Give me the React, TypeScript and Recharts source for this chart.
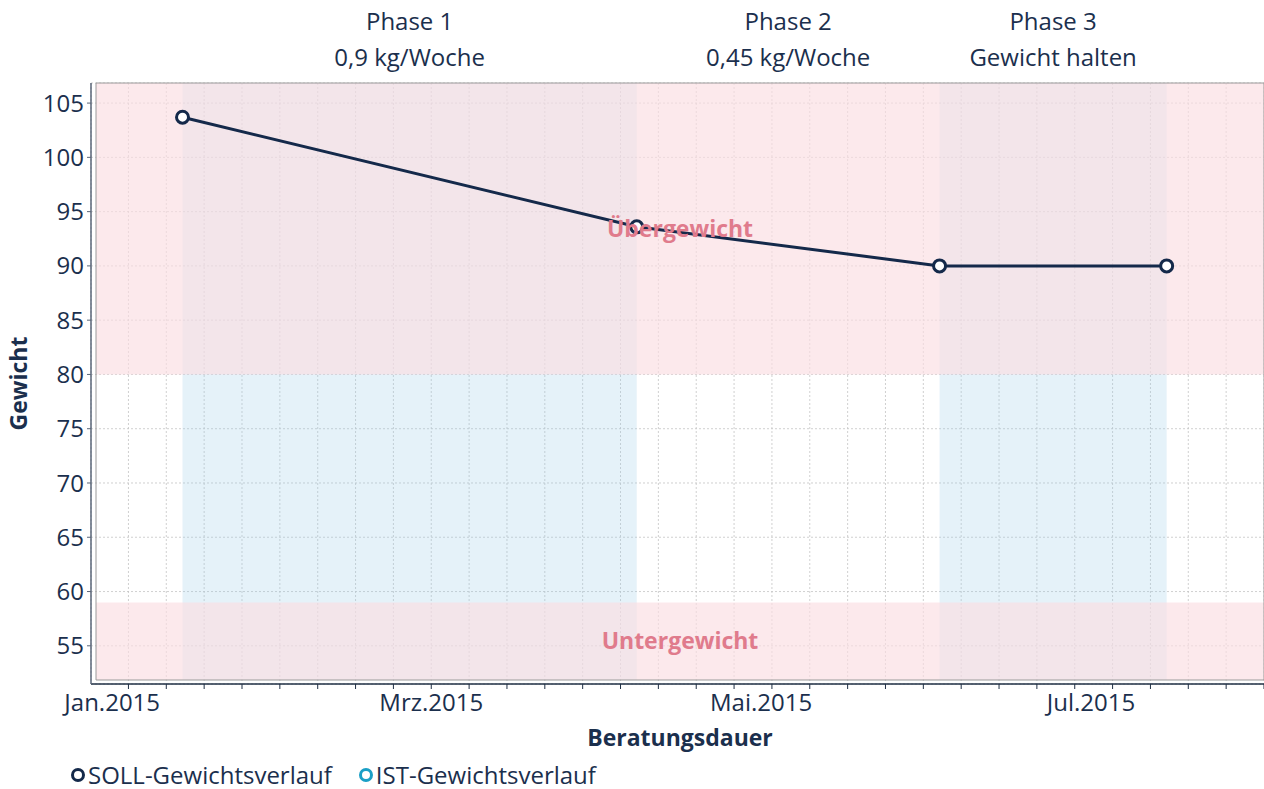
import React from "react";
import {
  ComposedChart,
  Line,
  XAxis,
  YAxis,
  CartesianGrid,
  ReferenceArea,
  Legend,
} from "recharts";

/* ── Daten ─────────────────────────────────────── */
const SOLL_DATES = ["2015-01-14", "2015-04-08", "2015-06-03", "2015-07-15"];
const SOLL_WEIGHT = [103.7, 93.6, 90, 90];
const IST_DATES: string[] = [];
const IST_WEIGHT: number[] = [];
const SERIES_NAMES = ["SOLL-Gewichtsverlauf", "IST-Gewichtsverlauf"];

const PHASE_START = ["2015-01-14", "2015-04-08", "2015-06-03"];
const PHASE_END = ["2015-04-08", "2015-06-03", "2015-07-15"];
const PHASE_TITLE = ["Phase 1", "Phase 2", "Phase 3"];
const PHASE_SUB = ["0,9 kg/Woche", "0,45 kg/Woche", "Gewicht halten"];
const PHASE_SHADED = [true, false, true];

const MONTH_TICKS = ["2015-01-01", "2015-03-01", "2015-05-01", "2015-07-01"];
const MONTH_NAMES = ["Jan.", "Feb.", "Mrz.", "Apr.", "Mai.", "Jun.", "Jul.", "Aug.", "Sep.", "Okt.", "Nov.", "Dez."];
const WEEK_FIRST = "2015-01-04";
const WEIGHT_TICKS = [55, 60, 65, 70, 75, 80, 85, 90, 95, 100, 105];

const X_START = "2014-12-29";
const X_END = "2015-08-02";
const Y_MIN = 51.85;
const Y_MAX = 106.85;
const UNDER_MAX = 59;
const OVER_MIN = 80;

/* ── Farben ────────────────────────────────────── */
const NAVY = "#14294a";
const TEXT = "#1b2f4d";
const TEAL = "#1a9fc6";
const ZONE_TEXT = "#e07b8c";
const FONT = "'Open Sans', sans-serif";

const DAY = 86400000;
const toDay = (s: string) => Date.parse(s + "T00:00:00Z") / DAY;

const X0 = toDay(X_START);
const X1 = toDay(X_END);

const weekTicks: number[] = [];
for (let d = toDay(WEEK_FIRST); d <= X1; d += 7) weekTicks.push(d);

const sollData = SOLL_DATES.map((d, i) => ({ x: toDay(d), soll: SOLL_WEIGHT[i] }));
const istData = IST_DATES.map((d, i) => ({ x: toDay(d), ist: IST_WEIGHT[i] }));

const monthLabel = (v: number) => {
  const dt = new Date(v * DAY);
  return MONTH_NAMES[dt.getUTCMonth()] + dt.getUTCFullYear();
};

/* Phasen-Überschrift oberhalb des Bereichs */
function PhaseLabel(props: any) {
  const { viewBox, title, sub } = props;
  if (!viewBox) return null;
  const cx = viewBox.x + viewBox.width / 2;
  return (
    <g>
      <text x={cx} y={viewBox.y - 53} textAnchor="middle" fill={TEXT} fontSize={24}>
        {title}
      </text>
      <text x={cx} y={viewBox.y - 17} textAnchor="middle" fill={TEXT} fontSize={24}>
        {sub}
      </text>
    </g>
  );
}

function LegendContent(props: any) {
  const items = [...(props.payload || [])].sort(
    (a: any, b: any) => SERIES_NAMES.indexOf(a.value) - SERIES_NAMES.indexOf(b.value)
  );
  return (
    <div style={{ display: "flex", alignItems: "center", gap: 26, fontSize: 24, lineHeight: "normal", color: TEXT, fontFamily: FONT, whiteSpace: "nowrap" }}>
      {items.map((it: any) => (
        <div key={it.value} style={{ display: "flex", alignItems: "center" }}>
          <svg width={16} height={16} style={{ marginRight: 2 }}>
            <circle cx={8} cy={8} r={5.5} fill="#fff" stroke={it.color} strokeWidth={3} />
          </svg>
          <span>{it.value}</span>
        </div>
      ))}
    </div>
  );
}

export default function App() {
  return (
    <div style={{ position: "absolute", left: 0, top: 0, width: 1264, height: 789, background: "#fff", fontFamily: FONT, overflow: "hidden" }}>
      <ComposedChart width={1264} height={789} margin={{ top: 83, right: 0, bottom: 39, left: 0 }}>
        {/* Phasen-Hintergrund */}
        {PHASE_START.map((s, i) => (
          <ReferenceArea
            key={"ph" + i}
            xAxisId="a"
            x1={toDay(s)}
            x2={toDay(PHASE_END[i])}
            y1={Y_MIN}
            y2={Y_MAX}
            fill={PHASE_SHADED[i] ? "#96cde6" : "none"}
            fillOpacity={PHASE_SHADED[i] ? 0.25 : 0}
            stroke="none"
            ifOverflow="visible"
            label={<PhaseLabel title={PHASE_TITLE[i]} sub={PHASE_SUB[i]} />}
          />
        ))}

        {/* Unter-/Übergewicht */}
        <ReferenceArea
          xAxisId="a"
          x1={X0}
          x2={X1}
          y1={OVER_MIN}
          y2={Y_MAX}
          fill="#fadde2"
          fillOpacity={0.65}
          stroke="none"
          label={{ value: "Übergewicht", position: "center", fill: ZONE_TEXT, fontSize: 23, fontWeight: 700 }}
        />
        <ReferenceArea
          xAxisId="a"
          x1={X0}
          x2={X1}
          y1={Y_MIN}
          y2={UNDER_MAX}
          fill="#fadde2"
          fillOpacity={0.65}
          stroke="none"
          label={{ value: "Untergewicht", position: "center", fill: ZONE_TEXT, fontSize: 23, fontWeight: 700 }}
        />

        <CartesianGrid xAxisId="a" stroke="#c4c4c4" strokeDasharray="2 2" strokeOpacity={0.8} />

        {/* Monatsbeschriftung (weiter außen) */}
        <XAxis
          xAxisId="b"
          dataKey="x"
          type="number"
          domain={[X0, X1]}
          allowDataOverflow
          ticks={MONTH_TICKS.map(toDay)}
          tickFormatter={monthLabel}
          tick={{ fill: TEXT, fontSize: 24 }}
          tickLine={false}
          tickSize={0}
          tickMargin={4}
          axisLine={false}
          height={60}
          padding={{ left: 5, right: 0 }}
          interval={0}
          label={(p: any) => (
            <text x={680} y={p.viewBox.y + 56} textAnchor="middle" fill={TEXT} fontSize={23} fontWeight={700}>
              Beratungsdauer
            </text>
          )}
        />
        {/* Wochen-Ticks (direkt am Plot) */}
        <XAxis
          xAxisId="a"
          dataKey="x"
          type="number"
          domain={[X0, X1]}
          allowDataOverflow
          ticks={weekTicks}
          tickFormatter={() => ""}
          tick={{ fontSize: 1 }}
          tickSize={5}
          tickMargin={0}
          height={6}
          interval={0}
          padding={{ left: 5, right: 0 }}
          axisLine={{ stroke: "#1f2f45", strokeWidth: 1.5 }}
          tickLine={{ stroke: "#1f2f45" }}
        />
        <YAxis
          type="number"
          domain={[Y_MIN, Y_MAX]}
          allowDataOverflow
          ticks={WEIGHT_TICKS}
          width={91}
          tickSize={4}
          tickMargin={3}
          padding={{ top: 0, bottom: 4 }}
          tick={{ fill: TEXT, fontSize: 24 }}
          axisLine={{ stroke: "#5a6678", strokeWidth: 1.5 }}
          tickLine={{ stroke: "#5a6678" }}
          label={(p: any) => {
            const cy = p.viewBox.y + p.viewBox.height / 2;
            return (
              <text x={27} y={cy} transform={`rotate(-90 27 ${cy})`} textAnchor="middle" fill={TEXT} fontSize={23} fontWeight={700}>
                Gewicht
              </text>
            );
          }}
        />

        {/* Rahmen */}
        <ReferenceArea xAxisId="a" x1={X0} x2={X1} y1={Y_MIN} y2={Y_MAX} fill="none" stroke="#9a9a9a" strokeWidth={1} />

        <Line
          xAxisId="a"
          data={sollData}
          dataKey="soll"
          name={SERIES_NAMES[0]}
          stroke={NAVY}
          strokeWidth={3}
          dot={{ r: 6, fill: "#fff", stroke: NAVY, strokeWidth: 3 }}
          isAnimationActive={false}
        />
        <Line
          xAxisId="a"
          data={istData}
          dataKey="ist"
          name={SERIES_NAMES[1]}
          stroke={TEAL}
          strokeWidth={3}
          dot={{ r: 6, fill: "#fff", stroke: TEAL, strokeWidth: 3 }}
          isAnimationActive={false}
        />

        <Legend
          layout="horizontal"
          verticalAlign="middle"
          align="center"
          content={<LegendContent />}
          wrapperStyle={{ top: 758, left: 70, width: 700 }}
        />
      </ComposedChart>
    </div>
  );
}
